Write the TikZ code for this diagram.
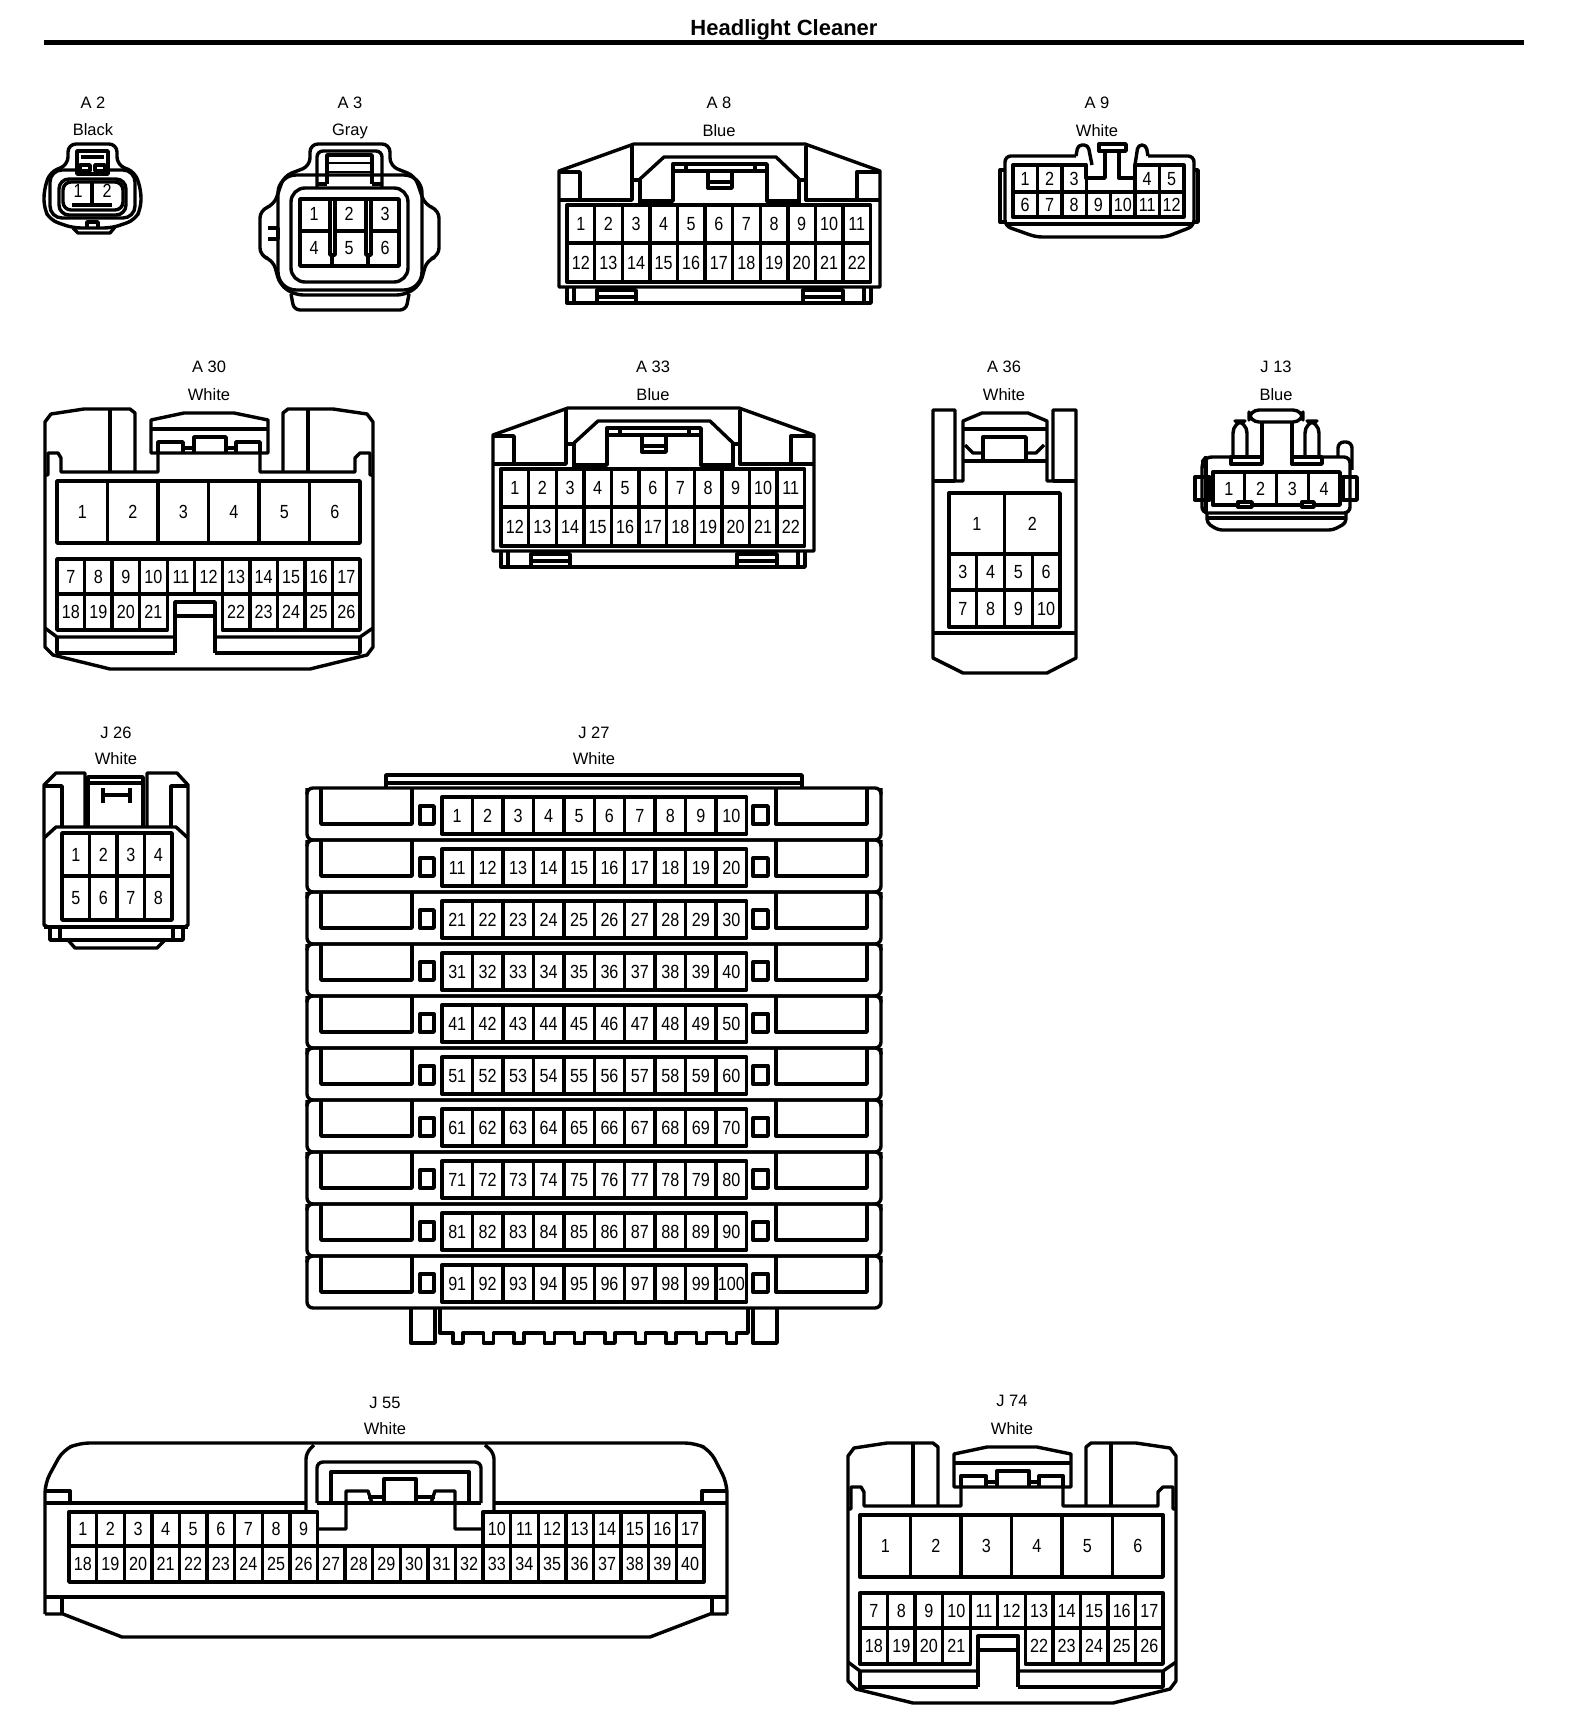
\documentclass[tikz,border=0pt]{standalone}
\usepackage{fontspec}
\setmainfont{Liberation Sans}
\newfontfamily\pinfont[FakeStretch=0.85]{Liberation Sans}
\tikzset{
    wire/.style = {line width = 1.7pt , line join = round},
    thinwire/.style = {line width = 1pt},
    pin/.style = {inner sep = 0pt , text height = 6.6pt , text depth = 0pt , font = \pinfont\fontsize{9.5}{11}\selectfont},
    tag/.style = {inner sep = 0pt , text height = 5.9pt , text depth = 0pt , font = \fontsize{8.25}{10}\selectfont}
}
% prefix , x0 , y0 , cell width , y1 , first pin , number of pins
\newcommand{\pinrow}[7]{
    \draw[wire] (#2,#3) rectangle ({#2+#7*#4},#5);
    \foreach \k in {1,...,#7}{
        \pgfmathtruncatemacro{\n}{#6+\k-1}
        \pgfmathsetmacro{\xc}{#2+(\k-1)*#4}
        \ifnum\k>1 \draw[wire] (\xc,#3) -- (\xc,#5);\fi
        \node[pin] (#1p\n) at ({\xc+0.5*#4},{0.5*(#3+#5)}) {\n};
    }
}
% housing shared by A8 and A33
\newcommand{\slimhousing}[3]{
    \node[tag] (#1name) at (719,103) {#2};
    \node[tag] (#1color) at (719,131) {#3};
    \draw[wire] (559,287) -- (559,171) -- (634,144) -- (805,144) -- (880,171) -- (880,287) -- cycle;
    \draw[wire] (559,172) -- (580,172) -- (580,200);
    \draw[wire] (880,172) -- (857,172) -- (857,200);
    \draw[wire] (559,200) -- (632,200) -- (632,146);
    \draw[wire] (880,200) -- (806,200) -- (806,146);
    \draw[wire] (632,180) -- (640,180) -- (640,204);
    \draw[wire] (806,180) -- (799,180) -- (799,204);
    \draw[wire] (640,179) -- (664,157) -- (776,157) -- (799,179);
    \draw[wire] (640,201) -- (673,201) -- (673,164) -- (767,164) -- (767,201) -- (799,201);
    \draw[wire] (673,171) -- (767,171);
    \draw[wire] (686,164) -- (686,171);
    \draw[wire] (755,164) -- (755,171);
    \draw[wire] (708,171) -- (708,188) -- (732,188) -- (732,171);
    \draw[wire] (708,182) -- (732,182);
    \pinrow{#1}{567}{205}{27.6}{243}{1}{11}
    \pinrow{#1}{567}{243}{27.6}{282}{12}{11}
    \draw[wire] (567,287) -- (567,303) -- (871,303) -- (871,287);
    \draw[wire] (574,287) -- (574,303);
    \draw[wire] (864,287) -- (864,303);
    \draw[wire] (597,290) rectangle (636,303);
    \draw[wire] (597,297) -- (636,297);
    \draw[wire] (803,290) rectangle (843,303);
    \draw[wire] (803,297) -- (843,297);
}
% housing shared by A30 and J74
\newcommand{\widehousing}[3]{
    \node[tag] (#1name) at (209,367) {#2};
    \node[tag] (#1color) at (209,395) {#3};
    \draw[wire] (135,472) -- (135,413) -- (130,409) -- (84,409) -- (51,414) -- (45,422) -- (45,647) -- (53,655) -- (110,669) -- (310,669) -- (367,655) -- (373,647) -- (373,422) -- (367,414) -- (333,409) -- (288,409) -- (283,413) -- (283,472);
    \draw[wire] (110,409) -- (110,472);
    \draw[wire] (308,409) -- (308,472);
    \draw[wire] (45,475) -- (48,475) -- (48,453) -- (58,453) -- (61,458) -- (61,472) -- (158,472) -- (158,453);
    \draw[wire] (373,475) -- (370,475) -- (370,453) -- (360,453) -- (355,458) -- (355,472) -- (260,472) -- (260,453);
    \draw[wire] (151,453) -- (151,420) -- (184,413) -- (234,413) -- (268,420) -- (268,453) -- cycle;
    \draw[wire] (151,429) -- (268,429);
    \draw[wire] (158,453) -- (158,442) -- (183,442) -- (183,453);
    \draw[wire] (194,453) -- (194,437) -- (226,437) -- (226,453);
    \draw[wire] (236,453) -- (236,442) -- (260,442) -- (260,453);
    \draw[wire] (183,448) -- (194,448);
    \draw[wire] (226,448) -- (236,448);
    \pinrow{#1}{57}{481}{50.5}{543}{1}{6}
    \pinrow{#1}{57}{559}{27.55}{594}{7}{11}
    \pinrow{#1}{57}{594}{27.55}{630}{18}{4}
    \pinrow{#1}{222.3}{594}{27.55}{630}{22}{5}
    \draw[wire] (175,653) -- (175,602) -- (215,602) -- (215,653);
    \draw[wire] (175,616) -- (215,616);
    \draw[wire] (45,628) -- (57,637) -- (175,637);
    \draw[wire] (373,628) -- (360,637) -- (215,637);
    \draw[wire] (57,637) -- (57,653) -- (175,653);
    \draw[wire] (360,637) -- (360,653) -- (215,653);
}
\begin{document}
\begin{tikzpicture}[x = 0.5pt , y = -0.5pt]
    \useasboundingbox (0,0) rectangle (1568,1732);
    \node[font = \bfseries\fontsize{11}{13}\selectfont] (title) at (784,30) {Headlight Cleaner};
    \draw[line width = 2.5pt] (44,43) -- (1524,43);

    % A2
    \node[tag] (A2name) at (93,103) {A 2};
    \node[tag] (A2color) at (93,130) {Black};
    \draw[wire , rounded corners = 4pt] (68,165) -- (68,144) -- (117,144) -- (117,165) -- (135,172) -- (141,190) -- (141,208) -- (135,220) -- (112,228) -- (73,228) -- (50,220) -- (44,208) -- (44,190) -- (50,172) -- cycle;
    \draw[wire , rounded corners = 6pt] (50,170) rectangle (135,218);
    \draw[wire , rounded corners = 5pt] (59,179) rectangle (126,215);
    \draw[wire , rounded corners = 4pt] (63,182) rectangle (123,210);
    \draw[wire , fill = white] (77,151) rectangle (108,174);
    \draw[wire] (81,157) -- (104,157);
    \draw[wire] (80,165) rectangle (90,171);
    \draw[wire] (95,165) rectangle (105,171);
    \draw[wire] (92,182) -- (92,205);
    \draw[wire] (72,205) -- (112,205);
    \draw[wire] (73,228) -- (78,233) -- (110,233) -- (115,227);
    \draw[wire] (87,228) -- (87,222) -- (98,222) -- (98,228);
    \node[pin] (A2p1) at (78,191) {1};
    \node[pin] (A2p2) at (107,191) {2};

    % A3
    \node[tag] (A3name) at (350,103) {A 3};
    \node[tag] (A3color) at (350,130) {Gray};
    \draw[wire , rounded corners = 4pt] (310,166) -- (310,144) -- (390,144) -- (390,166) -- (415,176) -- (425,205) -- (439,210) -- (439,256) -- (427,260) -- (420,285) -- (405,295) -- (295,295) -- (280,285) -- (273,260) -- (260,256) -- (260,210) -- (274,205) -- (284,176) -- cycle;
    \draw[wire , rounded corners = 9pt] (278,175) rectangle (422,290);
    \draw[wire , rounded corners = 7pt] (291,188) rectangle (408,282);
    \draw[wire , rounded corners = 3pt] (291,294) -- (294,310) -- (406,310) -- (409,294);
    \draw[wire] (268,228) -- (278,228) -- (278,239) -- (268,239);
    \draw[wire , rounded corners = 3pt] (317,188) -- (317,151) -- (382,151) -- (382,188);
    \draw[wire] (327,184) -- (327,155) -- (372,155) -- (372,184);
    \draw[wire] (327,184) -- (317,184);
    \draw[wire] (372,184) -- (382,184);
    \draw[thinwire] (328,163) -- (371,163);
    \draw[thinwire] (328,172) -- (371,172);
    \draw[wire] (300,199) rectangle (399,266);
    \draw[wire] (300,231) -- (330,231);
    \draw[wire] (334,231) -- (366,231);
    \draw[wire] (371,231) -- (399,231);
    \draw[wire] (330,199) -- (330,255) -- (335,255) -- (335,199);
    \draw[wire] (366,199) -- (366,255) -- (371,255) -- (371,199);
    \draw[wire] (332,255) -- (332,266);
    \draw[wire] (368,255) -- (368,266);
    \foreach \n/\xc/\yc in {1/314/214 , 2/349/214 , 3/385/214 , 4/314/248 , 5/349/248 , 6/385/248}
        \node[pin] (A3p\n) at (\xc,\yc) {\n};

    % A8
    \slimhousing{A8}{A 8}{Blue}

    % A9
    \node[tag] (A9name) at (1097,103) {A 9};
    \node[tag] (A9color) at (1097,131) {White};
    \draw[wire , rounded corners = 3pt] (1076,156) -- (1005,156) -- (1005,226) -- (1036,237) -- (1166,237) -- (1194,226) -- (1194,156) -- (1148,156);
    \draw[wire] (1005,224) -- (1194,224);
    \draw[wire] (1005,170) -- (1000,170) -- (1000,222) -- (1005,222);
    \draw[wire] (1194,170) -- (1198,170) -- (1198,222) -- (1194,222);
    \draw[wire , rounded corners = 2pt] (1076,156) -- (1078,145) -- (1088,145) -- (1092,165);
    \draw[wire , rounded corners = 2pt] (1135,165) -- (1138,145) -- (1146,145) -- (1148,156);
    \draw[wire] (1099,144) rectangle (1126,151);
    \pinrow{A9}{1013}{165}{24.4}{192}{1}{3}
    \pinrow{A9}{1135}{165}{24.4}{192}{4}{2}
    \pinrow{A9}{1013}{192}{24.4}{217}{6}{7}
    \draw[wire] (1086,165) -- (1086,178) -- (1105,178) -- (1105,151);
    \draw[wire] (1135,165) -- (1135,178) -- (1119,178) -- (1119,151);

    % A30
    \widehousing{A30}{A 30}{White}

    % A33
    \begin{scope}[shift = {(-66,264)}]
        \slimhousing{A33}{A 33}{Blue}
    \end{scope}

    % A36
    \node[tag] (A36name) at (1004,367) {A 36};
    \node[tag] (A36color) at (1004,395) {White};
    \draw[wire] (955,481) -- (955,410) -- (933,410) -- (933,658) -- (963,673) -- (1047,673) -- (1076,658) -- (1076,410) -- (1053,410) -- (1053,481);
    \draw[wire] (933,481) -- (955,481);
    \draw[wire] (1076,481) -- (1053,481);
    \draw[wire] (955,481) -- (963,481) -- (963,421) -- (982,413) -- (1028,413) -- (1047,421) -- (1047,481) -- (1053,481);
    \draw[wire] (963,429) -- (1047,429);
    \draw[wire] (963,461) -- (1047,461);
    \draw[wire] (983,437) rectangle (1026,461);
    \draw[wire] (965,445) -- (973,453) -- (983,453);
    \draw[wire] (1044,445) -- (1036,453) -- (1026,453);
    \draw[wire] (933,633) -- (1076,633);
    \pinrow{A36}{949}{493}{55.5}{554}{1}{2}
    \pinrow{A36}{949}{554}{27.75}{590}{3}{4}
    \pinrow{A36}{949}{590}{27.75}{627}{7}{4}

    % J13
    \node[tag] (J13name) at (1276,367) {J 13};
    \node[tag] (J13color) at (1276,395) {Blue};
    \draw[wire , rounded corners = 3pt] (1262,457) -- (1206,457) -- (1202,462) -- (1202,513) -- (1350,513) -- (1350,457) -- (1292,457);
    \draw[wire] (1206,460) -- (1206,513);
    \draw[wire , rounded corners = 2pt] (1207,513) -- (1207,523) -- (1218,530) -- (1333,530) -- (1346,523) -- (1346,513);
    \draw[wire] (1207,518) -- (1346,518);
    \draw[wire] (1195,477) rectangle (1210,500);
    \draw[wire] (1343,477) rectangle (1357,500);
    \pinrow{J13}{1213}{472}{31.75}{505}{1}{4}
    \draw[wire , fill = white] (1238,502) rectangle (1252,507);
    \draw[wire , fill = white] (1302,502) rectangle (1314,507);
    \draw[wire , rounded corners = 5pt] (1249,410) rectangle (1303,422);
    \draw[wire] (1262,422) -- (1262,464);
    \draw[wire] (1292,422) -- (1292,464);
    \draw[wire] (1231,457) rectangle (1262,464);
    \draw[wire] (1292,457) rectangle (1322,464);
    \draw[wire , rounded corners = 6pt] (1233,457) -- (1233,421) -- (1247,421) -- (1247,457);
    \draw[wire , rounded corners = 6pt] (1305,457) -- (1305,421) -- (1319,421) -- (1319,457);
    \draw[wire , rounded corners = 3pt] (1338,457) -- (1338,442) -- (1352,442) -- (1352,470);

    % J26
    \node[tag] (J26name) at (116,733) {J 26};
    \node[tag] (J26color) at (116,759) {White};
    \draw[wire] (85,827) -- (85,773) -- (56,773) -- (44,785) -- (44,925) -- (50,928);
    \draw[wire] (147,827) -- (147,773) -- (177,773) -- (188,785) -- (188,925) -- (183,928);
    \draw[wire] (44,786) -- (62,786) -- (62,827);
    \draw[wire] (188,786) -- (171,786) -- (171,827);
    \draw[wire] (88,827) -- (88,777) -- (143,777) -- (143,827);
    \draw[wire] (88,783) -- (143,783);
    \draw[wire] (103,788) -- (103,803);
    \draw[wire] (130,788) -- (130,803);
    \draw[wire] (103,795) -- (130,795);
    \draw[wire] (44,838) -- (56,827) -- (176,827) -- (188,838);
    \pinrow{J26}{62}{833}{27.5}{876}{1}{4}
    \pinrow{J26}{62}{876}{27.5}{920}{5}{4}
    \draw[wire] (44,927) -- (188,927);
    \draw[wire] (50,928) -- (50,940) -- (183,940) -- (183,928);
    \draw[wire] (60,927) -- (60,940);
    \draw[wire] (173,927) -- (173,940);
    \draw[wire] (68,940) -- (75,948) -- (157,948) -- (165,940);

    % J27
    \node[tag] (J27name) at (594,733) {J 27};
    \node[tag] (J27color) at (594,759) {White};
    \draw[wire] (386,788) -- (386,775) -- (802,775) -- (802,788);
    \draw[wire] (386,783) -- (802,783);
    \foreach \r in {0,...,9}{
        \pgfmathtruncatemacro{\firstpin}{10*\r+1}
        \begin{scope}[shift = {(0,52*\r)}]
            \draw[wire , rounded corners = 3pt] (307,792) -- (307,788) -- (881,788) -- (881,792);
            \draw[wire , rounded corners = 3pt] (307,788) -- (307,840) -- (881,840) -- (881,788);
            \draw[wire] (321,788) -- (321,824) -- (412,824) -- (412,788);
            \draw[wire] (867,788) -- (867,824) -- (776,824) -- (776,788);
            \draw[wire] (420,806) rectangle (434,824);
            \draw[wire] (753,806) rectangle (768,824);
            \pinrow{J27r\r}{442}{797}{30.45}{834}{\firstpin}{10}
        \end{scope}
    }
    \draw[wire] (411,1308) -- (411,1343) -- (435,1343) -- (435,1308);
    \draw[wire] (753,1308) -- (753,1343) -- (777,1343) -- (777,1308);
    \draw[wire] (440,1308) -- (440,1333) -- (453,1333) foreach \k in {0,...,8} { -- ++(0,10) -- ++(10,0) -- ++(0,-10) -- ++(20.4,0)} -- ++(0,10) -- ++(10,0) -- ++(0,-10) -- (748,1333) -- (748,1308);

    % J55
    \node[tag] (J55name) at (385,1403) {J 55};
    \node[tag] (J55color) at (385,1429) {White};
    \draw[wire , rounded corners = 5pt] (45,1614) -- (45,1483) -- (63,1450) -- (79,1443) -- (695,1443) -- (710,1450) -- (727,1483) -- (727,1614);
    \draw[wire] (45,1614) -- (63,1614) -- (122,1637) -- (650,1637) -- (710,1614) -- (727,1614);
    \draw[wire] (45,1503) -- (306,1503);
    \draw[wire] (727,1503) -- (494,1503);
    \draw[wire] (45,1491) -- (70,1491) -- (70,1503);
    \draw[wire] (727,1491) -- (702,1491) -- (702,1503);
    \draw[wire , rounded corners = 3pt] (306,1512) -- (306,1453) -- (314,1445);
    \draw[wire , rounded corners = 3pt] (494,1512) -- (494,1453) -- (485,1445);
    \draw[wire , rounded corners = 3pt] (317,1503) -- (317,1462) -- (481,1462) -- (481,1503);
    \draw[wire] (317,1503) -- (481,1503);
    \draw[wire] (331,1503) -- (331,1472) -- (469,1472) -- (469,1503);
    \draw[wire] (319,1529) -- (346,1529) -- (346,1491) -- (368,1491) -- (372,1503);
    \draw[wire] (483,1529) -- (455,1529) -- (455,1491) -- (435,1491) -- (431,1503);
    \draw[wire] (368,1497) -- (384,1497) -- (384,1479) -- (416,1479) -- (416,1497) -- (435,1497);
    \draw[wire] (416,1497) -- (416,1503);
    \draw[wire] (384,1497) -- (384,1503);
    \pinrow{J55}{69}{1512}{27.6}{1546}{1}{9}
    \pinrow{J55}{483}{1512}{27.6}{1546}{10}{8}
    \pinrow{J55}{69}{1546}{27.6}{1582}{18}{23}
    \draw[wire] (45,1597) -- (727,1597);
    \draw[wire] (62,1597) -- (62,1614);
    \draw[wire] (712,1597) -- (712,1614);

    % J74
    \begin{scope}[shift = {(803,1034)}]
        \widehousing{J74}{J 74}{White}
    \end{scope}
\end{tikzpicture}
\end{document}
